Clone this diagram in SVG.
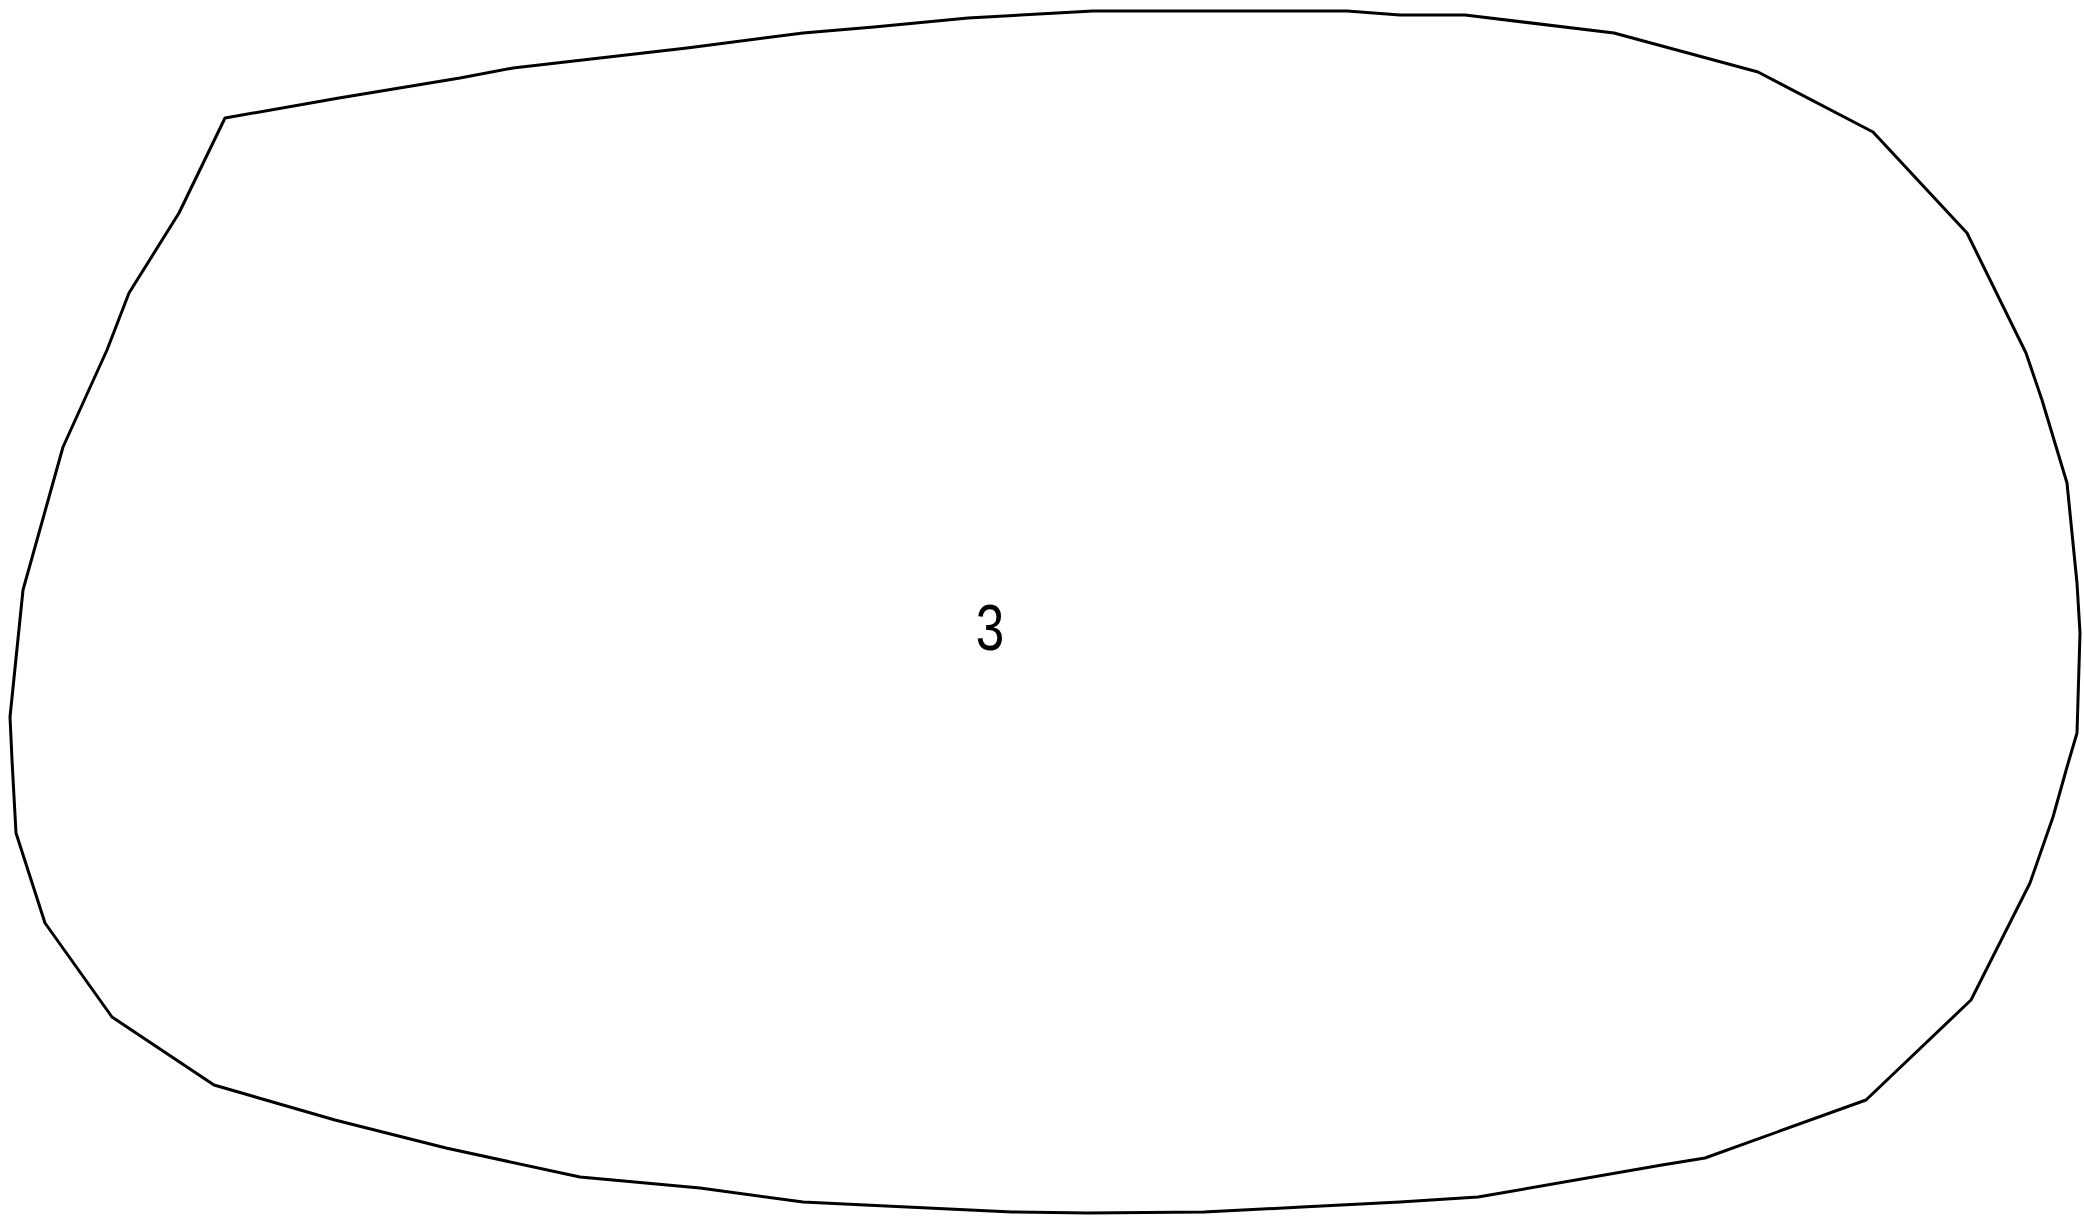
<svg xmlns="http://www.w3.org/2000/svg" width="2084" height="1223" viewBox="0 0 2084 1223">
<style>
.outline{fill:#ffffff;stroke:#000000;stroke-width:3;stroke-linejoin:round}
.label{font-family:"Liberation Sans",Arial,sans-serif;font-size:64px;fill:#000000}
</style>
<rect width="2084" height="1223" fill="#ffffff"/>
<g id="region-3">
<polygon class="outline" points="225,118 339,98 460,78 513,68 687,48 803,33 874,27 968,18 1057,13 1093,11 1347,11 1400,15 1465,15 1614,33 1758,72 1873,132 1967,233 2026,353 2042,400 2067,483 2077,583 2080,633 2077,733 2067,767 2053,817 2030,883 1971,1000 1866,1100 1705,1158 1662,1165 1478,1197 1400,1202 1302,1207 1204,1212 1088,1213 1012,1212 865,1205 803,1202 700,1188 580,1177 446,1148 335,1120 214,1085 112,1017 45,923 16,833 12,760 10,717 23,590 63,447 107,350 129,293 179,213"/>
<text class="label" x="990" y="650" text-anchor="middle" transform="translate(990 0) scale(0.8 1) translate(-990 0)">3</text>
</g>
<g id="connectors"/>
</svg>
